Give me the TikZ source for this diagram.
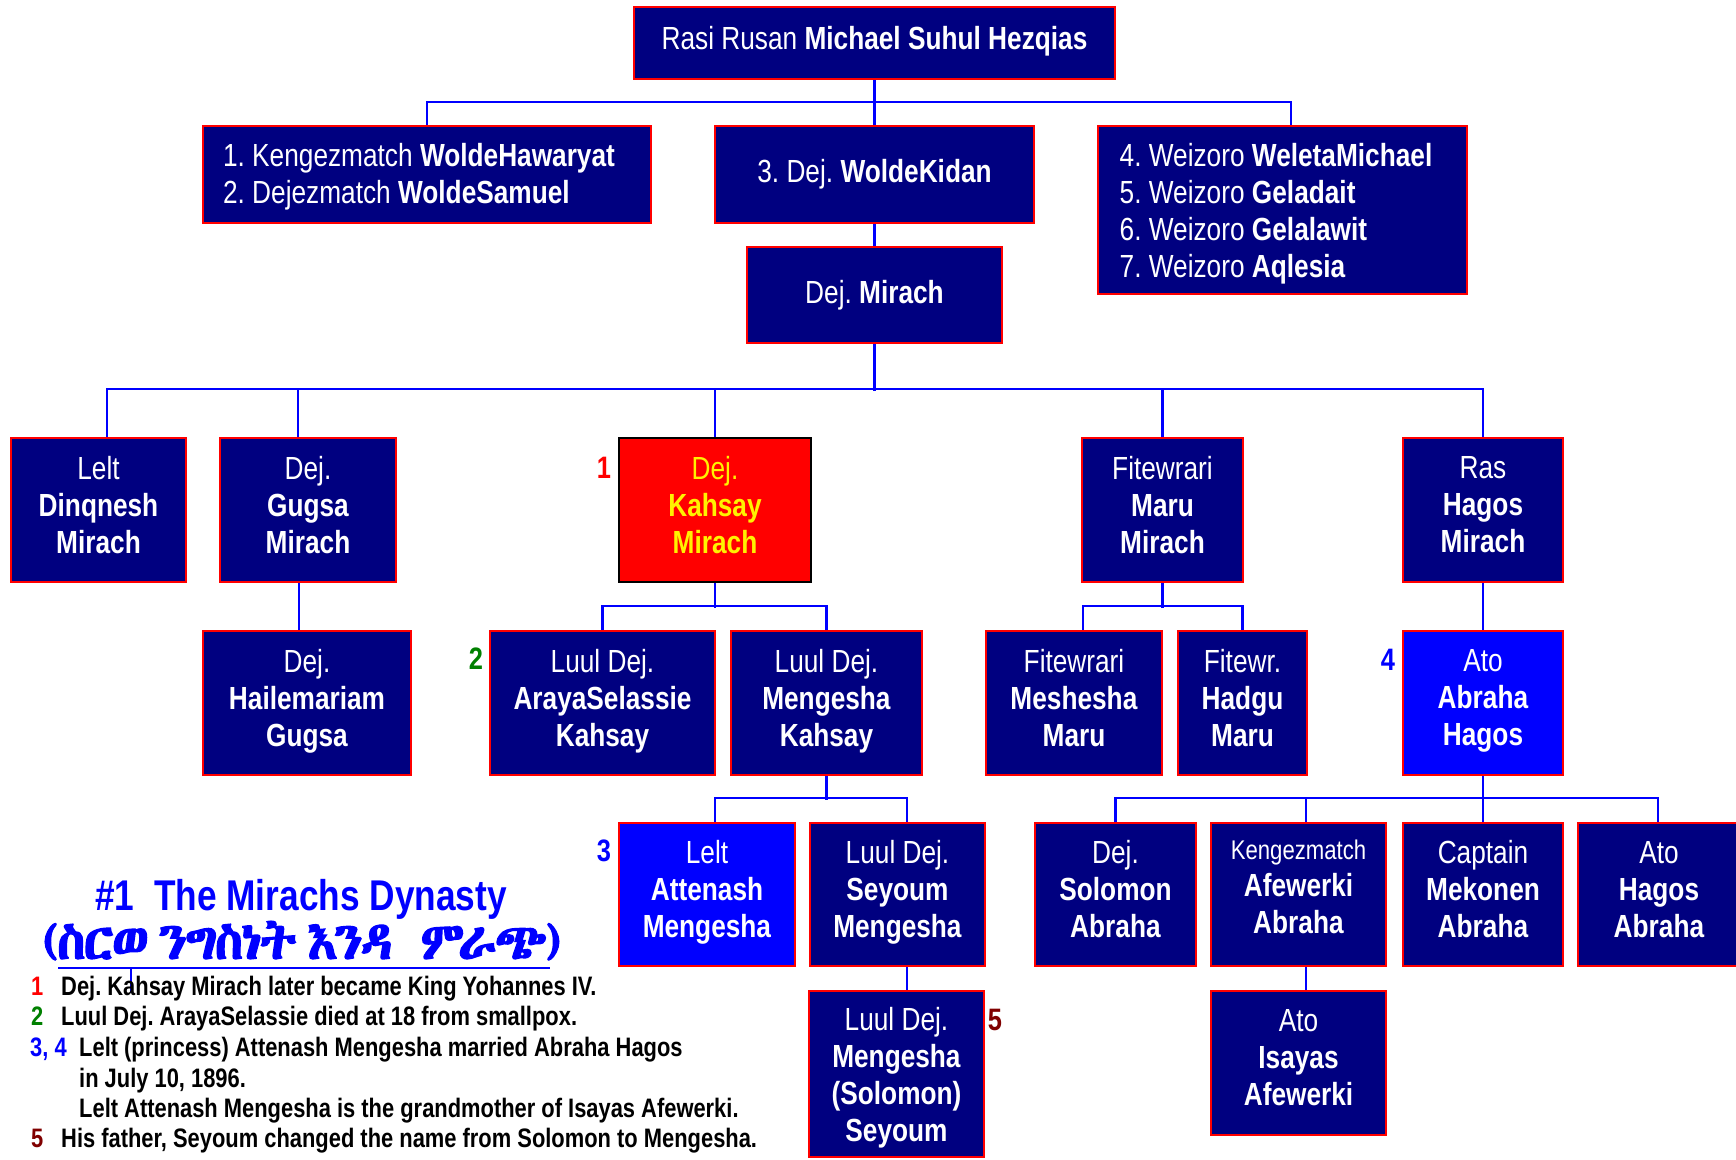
\documentclass[tikz,border=0pt]{standalone}
\usepackage{fontspec}
\usepackage{graphicx}
\setmainfont{Liberation Sans}[FakeStretch=0.82]
\IfFontExistsTF{Abyssinica SIL}{\newfontfamily\ethfont{Abyssinica SIL}[FakeBold=2.5,LetterSpace=-4]}{%
 \IfFontExistsTF{Noto Sans Ethiopic}{\newfontfamily\ethfont{Noto Sans Ethiopic}[FakeBold=2.5,LetterSpace=-4]}{%
  \IfFontExistsTF{FreeSerif}{\newfontfamily\ethfont{FreeSerif}[FakeBold=2.5,LetterSpace=-4]}{\newfontfamily\ethfont{DejaVu Sans}}}}
\frenchspacing
\definecolor{navy}{RGB}{0,0,128}
\definecolor{boxred}{RGB}{255,0,0}
\definecolor{lineblue}{RGB}{0,0,255}
\definecolor{dgreen}{RGB}{0,128,0}
\definecolor{dred}{RGB}{128,0,0}
\begin{document}
\begin{tikzpicture}[x=1pt,y=-1pt,
  box/.style={draw=boxred, line width=2.5pt, fill=navy, text=white, inner sep=0pt,
    align=center, text depth=11pt, font=\fontsize{32}{37}\selectfont\frenchspacing},
  bluebox/.style={box, fill=lineblue},
  con/.style={draw=lineblue, line width=2.2pt},
  numlab/.style={font=\bfseries\fontsize{31}{37}\selectfont, inner sep=0pt},
  legnum/.style={font=\bfseries\fontsize{26.7}{31}\selectfont\frenchspacing, inner sep=0pt, anchor=base west},
  legtxt/.style={legnum, text=black}]
\useasboundingbox (0,0) rectangle (1736,1159);
% ---- top levels
\node[box, minimum width=481, minimum height=72, text depth=10pt] (top) at (874.5,43) {Rasi Rusan \textbf{Michael Suhul Hezqias}};
\node[box, minimum width=448, minimum height=97, align=left, text depth=2pt] (k1) at (427,174.5) {1. Kengezmatch \textbf{WoldeHawaryat}\hspace*{16pt}\\2. Dejezmatch \textbf{WoldeSamuel}};
\node[box, minimum width=319, minimum height=97, text depth=6.5pt] (wk) at (874.5,174.5) {3. Dej. \textbf{WoldeKidan}};
\node[box, minimum width=369, minimum height=168, align=left, text depth=0pt] (wz) at (1282.5,210) {4. Weizoro \textbf{WeletaMichael}\hspace*{13pt}\\5. Weizoro \textbf{Geladait}\\6. Weizoro \textbf{Gelalawit}\\7. Weizoro \textbf{Aqlesia}};
\node[box, minimum width=255, minimum height=96, text depth=6.5pt] (mir) at (874.5,295) {Dej. \textbf{Mirach}};
% ---- row 3
\node[box, minimum width=175, minimum height=144] (din) at (98.5,510) {Lelt\\\textbf{Dinqnesh}\\\textbf{Mirach}};
\node[box, minimum width=176, minimum height=144] (gug) at (308,510) {Dej.\\\textbf{Gugsa}\\\textbf{Mirach}};
\node[box, draw=black, fill=boxred, text=yellow, minimum width=192, minimum height=144] (kah) at (715,510) {Dej.\\\textbf{Kahsay}\\\textbf{Mirach}};
\node[box, minimum width=161, minimum height=144] (maru) at (1162.5,510) {Fitewrari\\\textbf{Maru}\\\textbf{Mirach}};
\node[box, minimum width=160, minimum height=144] (hag) at (1483,510) {Ras\\\textbf{Hagos}\\\textbf{Mirach}};
% ---- row 4
\node[box, minimum width=208, minimum height=144] (hai) at (307,703) {Dej.\\\textbf{Hailemariam}\\\textbf{Gugsa}};
\node[box, minimum width=225, minimum height=144] (ara) at (602.5,703) {Luul Dej.\\\textbf{ArayaSelassie}\\\textbf{Kahsay}};
\node[box, minimum width=191, minimum height=144] (men) at (826.5,703) {Luul Dej.\\\textbf{Mengesha}\\\textbf{Kahsay}};
\node[box, minimum width=176, minimum height=144] (mes) at (1074,703) {Fitewrari\\\textbf{Meshesha}\\\textbf{Maru}};
\node[box, minimum width=129, minimum height=144] (had) at (1242.5,703) {Fitewr.\\\textbf{Hadgu}\\\textbf{Maru}};
\node[bluebox, minimum width=160, minimum height=144] (abr) at (1483,703) {Ato\\\textbf{Abraha}\\\textbf{Hagos}};
% ---- row 5
\node[bluebox, minimum width=176, minimum height=143] (att) at (707,894.5) {Lelt\\\textbf{Attenash}\\\textbf{Mengesha}};
\node[box, minimum width=175, minimum height=143] (sey) at (897.5,894.5) {Luul Dej.\\\textbf{Seyoum}\\\textbf{Mengesha}};
\node[box, minimum width=161, minimum height=143] (sol) at (1115.5,894.5) {Dej.\\\textbf{Solomon}\\\textbf{Abraha}};
\node[box, minimum width=175, minimum height=143, text depth=16pt] (afe) at (1298.5,894.5) {{\fontsize{27}{33}\selectfont Kengezmatch}\\\textbf{Afewerki}\\\textbf{Abraha}};
\node[box, minimum width=160, minimum height=143] (mek) at (1483,894.5) {Captain\\\textbf{Mekonen}\\\textbf{Abraha}};
\node[box, minimum width=162, minimum height=143] (hab) at (1659,894.5) {Ato\\\textbf{Hagos}\\\textbf{Abraha}};
% ---- row 6
\node[box, minimum width=175, minimum height=166, text depth=0pt] (mso) at (896.5,1074) {Luul Dej.\\\textbf{Mengesha}\\\textbf{(Solomon)}\\\textbf{Seyoum}};
\node[box, minimum width=175, minimum height=144] (isa) at (1298.5,1063) {Ato\\\textbf{Isayas}\\\textbf{Afewerki}};
% ---- connectors
\draw[con] (top.south) -- (wk.north);
\draw[con] (k1.north) -- ++(0,-23) -| ([xshift=8.5pt]wz.north);
\draw[con] (wk.south) -- (mir.north);
\draw[con] (mir.south) -- ++(0,47);
\draw[con] ([xshift=8.5pt]din.north) -- ++(0,-48) -| (hag.north);
\draw[con] ([xshift=-10pt]gug.north) -- ++(0,-48);
\draw[con] (kah.north) -- ++(0,-48);
\draw[con] (maru.north) -- ++(0,-48);
\draw[con] ([xshift=-9pt]gug.south) -- ([xshift=-8pt]hai.north);
\draw[con] (kah.south) -- ++(0,25);
\draw[con] (ara.north) -- ++(0,-24) -| (men.north);
\draw[con] (maru.south) -- ++(0,25);
\draw[con] ([xshift=9pt]mes.north) -- ++(0,-24) -| (had.north);
\draw[con] (hag.south) -- (abr.north);
\draw[con] (men.south) -- ++(0,24);
\draw[con] ([xshift=8pt]att.north) -- ++(0,-24) -| ([xshift=9.5pt]sey.north);
\draw[con] ([xshift=9.5pt]sey.south) -- ([xshift=10.5pt]mso.north);
\draw[con] (abr.south) -- ++(0,24);
\draw[con] (sol.north) -- ++(0,-24) -| ([xshift=-1pt]hab.north);
\draw[con] ([xshift=7.5pt]afe.north) -- ++(0,-24);
\draw[con] (mek.north) -- ++(0,-24);
\draw[con] ([xshift=7.5pt]afe.south) -- ([xshift=7.5pt]isa.north);
% ---- number labels
\node[numlab, text=boxred] (n1) at (604,468) {1};
\node[numlab, text=dgreen] (n2) at (476,659) {2};
\node[numlab, text=lineblue] (n3) at (604,851) {3};
\node[numlab, text=lineblue] (n4) at (1388,660) {4};
\node[numlab, text=dred] (n5) at (995,1020) {5};
% ---- title
\node[font=\bfseries\fontsize{43}{50}\selectfont, text=lineblue, anchor=base, inner sep=0pt] (title) at (301,910) {\#1\ \ The Mirachs Dynasty};
\node[text=lineblue, anchor=base, inner sep=0pt] (geez) at (302,959) {\resizebox{520pt}{!}{\ethfont\fontsize{44}{50}\selectfont (ስርወ\hspace{9pt}ንግስነት\hspace{9pt}እንዳ\hspace{24pt}ምራጭ)}};
\coordinate (ul1) at (58,968);
\coordinate (ul2) at (550,968);
\coordinate (vl1) at (131,968);
\coordinate (vl2) at (131,993);
\draw[con] (ul1) -- (ul2);
\draw[con] (vl1) -- (vl2);
% ---- legend
\node[legnum, text=boxred] (l1n) at (31,995) {1};
\node[legtxt] (l1) at (61,995) {Dej. Kahsay Mirach later became King Yohannes IV.};
\node[legnum, text=dgreen] (l2n) at (31,1025) {2};
\node[legtxt] (l2) at (61,1025) {Luul Dej. ArayaSelassie died at 18 from smallpox.};
\node[legnum, text=lineblue] (l3n) at (30,1056) {3, 4};
\node[legtxt] (l3) at (79,1056) {Lelt (princess) Attenash Mengesha married Abraha Hagos};
\node[legtxt] (l4) at (79,1087) {in July 10, 1896.};
\node[legtxt] (l5) at (79,1117) {Lelt Attenash Mengesha is the grandmother of Isayas Afewerki.};
\node[legnum, text=dred] (l6n) at (31,1147) {5};
\node[legtxt] (l6) at (61,1147) {His father, Seyoum changed the name from Solomon to Mengesha.};
\end{tikzpicture}
\end{document}
